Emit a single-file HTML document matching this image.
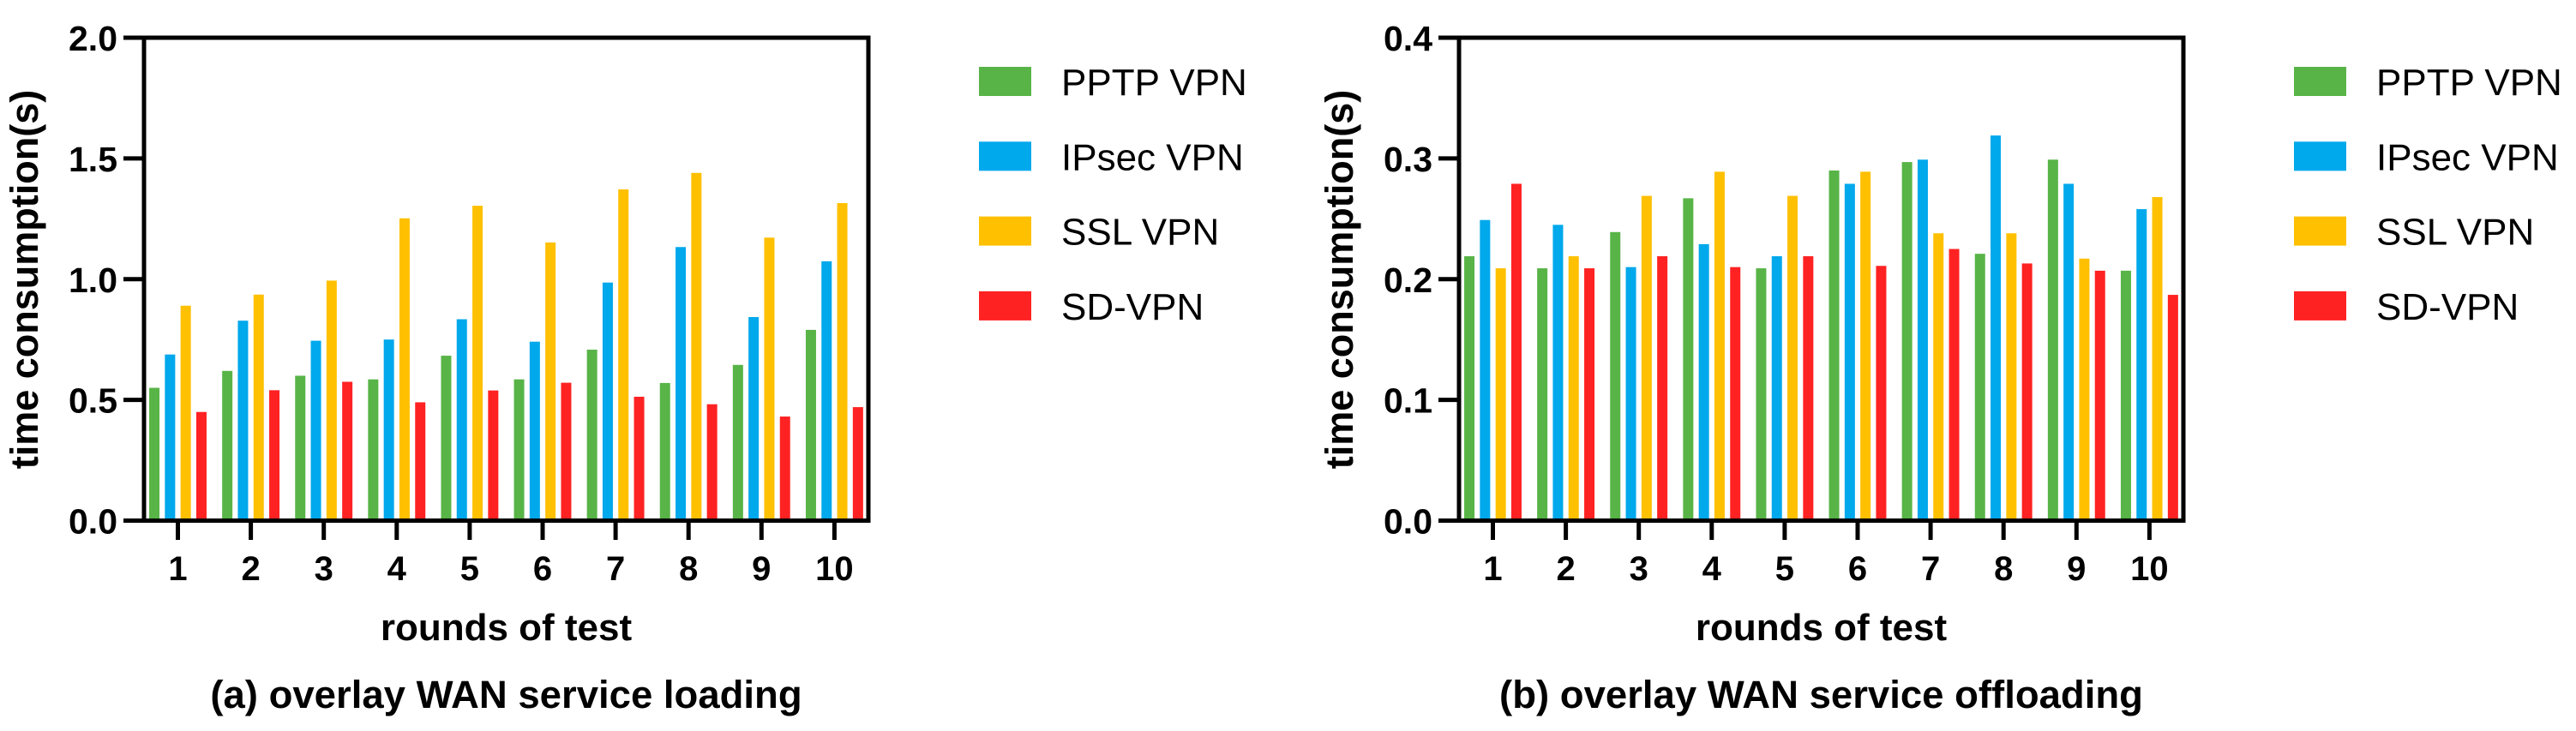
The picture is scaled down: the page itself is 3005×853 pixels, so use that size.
<!DOCTYPE html>
<html><head><meta charset="utf-8"><style>
html,body{margin:0;padding:0;background:#fff;}
svg{display:block;font-family:"Liberation Sans",Arial,sans-serif;}
</style></head><body>
<svg id="fig" width="3005" height="853" viewBox="0 0 3005 853" xmlns="http://www.w3.org/2000/svg"></svg>
<script>
const categories = ["1","2","3","4","5","6","7","8","9","10"];
const seriesNames = ["PPTP VPN","IPsec VPN","SSL VPN","SD-VPN"];
const loadPPTP  = [0.55,0.62,0.60,0.585,0.683,0.585,0.708,0.570,0.645,0.790];
const loadIPsec = [0.688,0.828,0.745,0.75,0.834,0.741,0.986,1.133,0.843,1.074];
const loadSSL   = [0.89,0.936,0.994,1.252,1.304,1.152,1.372,1.440,1.172,1.315];
const loadSD    = [0.45,0.54,0.575,0.49,0.539,0.571,0.513,0.482,0.431,0.470];
const offPPTP  = [0.219,0.209,0.239,0.267,0.209,0.29,0.297,0.221,0.299,0.207];
const offIPsec = [0.249,0.245,0.210,0.229,0.219,0.279,0.299,0.319,0.279,0.258];
const offSSL   = [0.209,0.219,0.269,0.289,0.269,0.289,0.238,0.238,0.217,0.268];
const offSD    = [0.279,0.209,0.219,0.210,0.219,0.211,0.225,0.213,0.207,0.187];
const leftTicks = ["0.0","0.5","1.0","1.5","2.0"];
const rightTicks = ["0.0","0.1","0.2","0.3","0.4"];
const colors = ["#58b447","#00a8ec","#ffc000","#ff2222"];

const NS="http://www.w3.org/2000/svg";
const svg=document.getElementById('fig');
function mk(tag,attrs,parent){const e=document.createElementNS(NS,tag);for(const k in attrs)e.setAttribute(k,attrs[k]);(parent||svg).appendChild(e);return e;}

function chart(opt){
  const g=mk('g',{});
  
  
  const x0=opt.x0, x1=opt.x0+845, yTop=44, yBot=607.5;
  const yScale=v=>yBot-(v/opt.ymax)*(yBot-yTop);
  const xCenter=i=>x0+39.5+i*85.1;
  const series=opt.series;
  series.forEach((vals,j)=>{
    vals.forEach((v,i)=>{
      const r=mk('rect',{x:xCenter(i)+(j-1.5)*18.3-6,y:yScale(v),width:12,height:yBot-yScale(v),fill:colors[j]},g);
      
      
    });
  });
  const fr=mk('path',{d:`M${x0} ${yTop} H${x1} V${yBot} H${x0} Z`,fill:'none',stroke:'#000','stroke-width':5},g);
  
  
  opt.ticks.forEach((t,k)=>{
    const v=k*opt.ymax/(opt.ticks.length-1);
    const y=yScale(v);
    mk('line',{x1:x0-24,x2:x0,y1:y,y2:y,stroke:'#000','stroke-width':5},g);
    const tx=mk('text',{x:x0-31,y:y+15,'text-anchor':'end','font-size':41,'font-weight':'bold'},g);
    tx.textContent=t;
    
    
  });
  categories.forEach((c,i)=>{
    const x=xCenter(i);
    mk('line',{x1:x,x2:x,y1:yBot,y2:630,stroke:'#000','stroke-width':5},g);
    const tx=mk('text',{x:x,y:677,'text-anchor':'middle','font-size':40,'font-weight':'bold'},g);
    tx.textContent=c;
    
    
  });
  const cx=(x0+x1)/2;
  const yt=mk('text',{x:0,y:0,transform:`translate(${x0-124},326) rotate(-90)`,'text-anchor':'middle','font-size':45,'font-weight':'bold'},g);
  yt.textContent='time consumption(s)';
  
  
  const xt=mk('text',{x:cx,y:747,'text-anchor':'middle','font-size':44,'font-weight':'bold'},g);
  xt.textContent='rounds of test';
  
  
  const cap=mk('text',{x:cx,y:826,'text-anchor':'middle','font-size':45.5,'font-weight':'bold'},g);
  cap.textContent=opt.caption;
  
  
  const lx=x1+129;
  seriesNames.forEach((n,j)=>{
    const cy=95+j*87.3;
    const sw=mk('rect',{x:lx,y:cy-17,width:61,height:34,fill:colors[j]},g);
    
    
    const t=mk('text',{x:lx+96,y:cy+16,'font-size':44},g);
    t.textContent=n;
    
    
  });
}
chart({name:'chart-loading',x0:168,ymax:2.0,ticks:leftTicks,series:[loadPPTP,loadIPsec,loadSSL,loadSD],caption:'(a) overlay WAN service loading'});
chart({name:'chart-offloading',x0:1702,ymax:0.4,ticks:rightTicks,series:[offPPTP,offIPsec,offSSL,offSD],caption:'(b) overlay WAN service offloading'});
</script>
</body></html>
